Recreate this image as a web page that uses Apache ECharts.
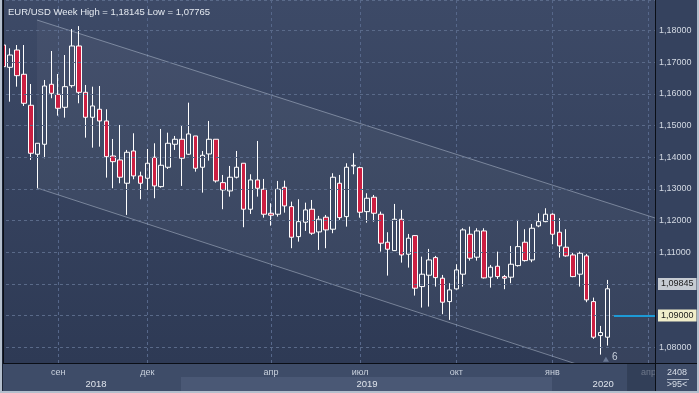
<!DOCTYPE html>
<html>
<head>
<meta charset="utf-8">
<script src="https://cdn.jsdelivr.net/npm/echarts@6/dist/echarts.min.js"></script>
<style>
html,body{margin:0;padding:0;background:#35425e;}
#chart{width:699px;height:393px;}
</style>
</head>
<body>
<div id="chart"></div>
<script>
// ---- data (weekly EUR/USD candles) ----
const weekIndex = Array.from({length: 89}, (_, i) => i);
const openV = [1.17548,1.16844,1.17390,1.16623,1.15644,1.14096,1.14412,1.16307,1.15991,1.15580,
1.16263,1.17517,1.16054,1.15265,1.15517,1.15148,1.14042,1.13916,1.13180,1.14200,
1.13411,1.13338,1.14001,1.13073,1.13685,1.14412,1.14570,1.14096,1.14674,1.13685,
1.14105,1.14570,1.13199,1.12937,1.13370,1.13812,1.12359,1.13284,1.12990,1.12232,
1.12201,1.13054,1.12441,1.11493,1.11948,1.12359,1.11642,1.12106,1.11727,1.13180,
1.12125,1.13726,1.13673,1.12283,1.12738,1.12201,1.11316,1.11051,1.12043,1.10937,
1.11525,1.09914,1.10274,1.10830,1.10179,1.09440,1.09841,1.10306,1.11569,1.10843,
1.11673,1.10211,1.10558,1.10230,1.10211,1.10577,1.11316,1.10757,1.11831,1.11967,
1.12201,1.11632,1.11158,1.10915,1.10306,1.10884,1.09440,1.08366,1.08316];
const closeV = [1.16863,1.17232,1.16579,1.15707,1.14128,1.14443,1.16253,1.16023,1.15549,1.16231,
1.17517,1.16054,1.15265,1.15622,1.15148,1.14020,1.13862,1.13370,1.14159,1.13411,
1.13180,1.13812,1.13095,1.13748,1.14443,1.14570,1.13970,1.14737,1.13654,1.14064,
1.14570,1.13253,1.12968,1.13370,1.13685,1.12359,1.13284,1.13022,1.12201,1.12169,
1.12990,1.12463,1.11474,1.11967,1.12337,1.11601,1.12043,1.11705,1.13370,1.12093,
1.13685,1.13748,1.12264,1.12706,1.12232,1.11285,1.11095,1.12043,1.10915,1.11443,
1.09863,1.10306,1.10757,1.10198,1.09421,1.09810,1.10441,1.11705,1.10811,1.11673,
1.10189,1.10527,1.10230,1.10179,1.10621,1.11177,1.10735,1.11758,1.11967,1.12201,
1.11569,1.11199,1.10884,1.10230,1.10969,1.09494,1.08316,1.08461,1.09845];
const lowV = [1.16822,1.15757,1.16231,1.15622,1.13916,1.13022,1.13970,1.15865,1.15315,1.15252,
1.16200,1.15707,1.14620,1.14304,1.14336,1.13357,1.13022,1.13180,1.12179,1.13306,
1.12675,1.12968,1.12706,1.13041,1.13632,1.14232,1.13095,1.14074,1.13546,1.12883,
1.13894,1.13199,1.12359,1.12757,1.13332,1.11790,1.12210,1.12757,1.12093,1.11841,
1.12125,1.12251,1.11127,1.11335,1.11673,1.11547,1.11073,1.11127,1.11601,1.12021,
1.11809,1.13464,1.12093,1.11935,1.11967,1.11019,1.10261,1.11040,1.10672,1.10514,
1.09630,1.09251,1.09282,1.09914,1.09042,1.08862,1.09820,1.09914,1.10735,1.10735,
1.10170,1.09882,1.10157,1.09832,1.10021,1.10546,1.10704,1.10685,1.11790,1.11948,
1.11253,1.10830,1.10860,1.10211,1.09914,1.09421,1.08262,1.07765,1.08050];
const highV = [1.17580,1.17444,1.17548,1.17548,1.16316,1.14450,1.16443,1.17359,1.16632,1.17232,
1.18054,1.18145,1.16285,1.16231,1.16253,1.15517,1.14579,1.15021,1.14232,1.14759,
1.13546,1.14263,1.14443,1.14895,1.14778,1.14674,1.14990,1.15726,1.14674,1.14200,
1.15148,1.14570,1.13442,1.13726,1.14200,1.13812,1.13464,1.14516,1.13316,1.12548,
1.13253,1.13262,1.12599,1.12675,1.12567,1.12652,1.12147,1.12178,1.13496,1.13442,
1.13812,1.14128,1.13705,1.12864,1.12810,1.12283,1.11632,1.12526,1.12337,1.11578,
1.11540,1.10861,1.11105,1.10884,1.10283,1.10021,1.10621,1.11758,1.11809,1.11758,
1.11758,1.10599,1.11019,1.10283,1.11199,1.12021,1.11727,1.11894,1.12232,1.12390,
1.12232,1.12074,1.11727,1.10988,1.11019,1.10947,1.09567,1.08672,1.10125];

// month tick labels (positioned on the week index scale)
const monthTickIdx = [8, 21, 39, 52, 66, 80, 94];
const monthTickLabels = ['сен', 'дек', 'апр', 'июл', 'окт', 'янв', 'апр'];
const yearTickIdx = [13.5, 53, 87.4];
const yearTickLabels = ['2018', '2019', '2020'];

// trend channel (week index, price)
const channelUpper = [[4.91, 1.18338], [94.95, 1.12083]];
const channelLower = [[4.91, 1.13031], [94.95, 1.06657]];

const lastPrice = 1.09845;
const linePrice = 1.09000;
const weekHigh = 1.18145, weekLow = 1.07765;

// ---- chart ----
const fmt = v => v.toFixed(5).replace('.', ',');
const X_MIN = -0.4808, X_MAX = 94.95;
const FONT = 'Liberation Sans';

const candleData = weekIndex.map(i => [i, openV[i], closeV[i], lowV[i], highV[i]]);

const chart = echarts.init(document.getElementById('chart'), null, {renderer: 'canvas'});
chart.setOption({
  animation: false,
  backgroundColor: '#35425e',
  textStyle: {fontFamily: FONT},
  title: {
    text: 'EUR/USD Week High = ' + fmt(weekHigh) + ' Low = ' + fmt(weekLow),
    left: 3, top: 2,
    textStyle: {color: '#e4e9f0', fontSize: 9.5, fontWeight: 'normal', fontFamily: FONT}
  },
  grid: {
    left: 0, right: 44, top: 0, bottom: 30,
    show: true, borderWidth: 0,
    backgroundColor: new echarts.graphic.LinearGradient(0, 0, 0, 1, [
      {offset: 0, color: '#3d4a67'}, {offset: 1, color: '#2e3a55'}
    ])
  },
  xAxis: [{
    type: 'value', min: X_MIN, max: X_MAX, z: 5,
    splitLine: {show: false}, axisTick: {show: false},
    axisLine: {show: true, lineStyle: {color: '#0a0e16', width: 1}},
    axisLabel: {
      customValues: monthTickIdx,
      formatter: v => monthTickLabels[monthTickIdx.indexOf(v)] || '',
      color: '#c9d1dd', fontSize: 9, margin: 5, fontFamily: FONT
    }
  }, {
    type: 'value', min: X_MIN, max: X_MAX, position: 'bottom', offset: 14, z: 5,
    splitLine: {show: false}, axisTick: {show: false}, axisLine: {show: false},
    axisLabel: {
      customValues: yearTickIdx,
      formatter: v => yearTickLabels[yearTickIdx.indexOf(v)] || '',
      color: '#dfe4ec', fontSize: 9.5, margin: 2, fontFamily: FONT
    }
  }],
  yAxis: {
    type: 'value', position: 'right', min: 1.075, max: 1.1897, splitNumber: 11, z: 5,
    axisLine: {show: true, lineStyle: {color: '#0a0e16'}},
    axisTick: {show: false},
    splitLine: {show: true, lineStyle: {color: '#5a6a89', type: [3, 3], width: 1}},
    axisLabel: {
      formatter: fmt, color: '#d3d9e3', fontSize: 9, margin: 4, fontFamily: FONT,
      showMinLabel: false, showMaxLabel: false
    }
  },
  graphic: [
    {type: 'rect', z: 1, shape: {x: 0, y: 364, width: 699, height: 29}, style: {fill: '#3e4c68'}},
    {type: 'rect', z: 1, shape: {x: 181, y: 377, width: 371, height: 14}, style: {fill: '#4a5875'}},
    {type: 'rect', z: 20, shape: {x: 627, y: 364, width: 28, height: 27}, style: {fill: 'rgba(44,55,79,0.6)'}},
    {type: 'line', z: 20, shape: {x1: 627.5, y1: 364, x2: 627.5, y2: 391}, style: {stroke: '#334058', lineWidth: 1}},
    {type: 'line', z: 20, shape: {x1: 0, y1: 363.5, x2: 699, y2: 363.5}, style: {stroke: '#0a0e16', lineWidth: 1}},
    {type: 'line', z: 20, shape: {x1: 655.5, y1: 0, x2: 655.5, y2: 393}, style: {stroke: '#0a0e16', lineWidth: 1}},
    {type: 'line', z: 20, shape: {x1: 2.5, y1: 0, x2: 2.5, y2: 391}, style: {stroke: '#1a2233', lineWidth: 1}},
    {type: 'text', z: 20, x: 677, y: 373, style: {text: '2408', fill: '#d8dee8', font: '9px "Liberation Sans"', align: 'center', verticalAlign: 'middle'}},
    {type: 'line', z: 20, shape: {x1: 667, y1: 379.5, x2: 689, y2: 379.5}, style: {stroke: '#aab4c4', lineWidth: 1}},
    {type: 'text', z: 20, x: 677, y: 385, style: {text: '>95<', fill: '#d8dee8', font: '9px "Liberation Sans"', align: 'center', verticalAlign: 'middle'}},
    {type: 'rect', z: 30, shape: {x: 0, y: 0, width: 2, height: 393}, style: {fill: '#b4bfcd'}},
    {type: 'rect', z: 30, shape: {x: 697, y: 0, width: 2, height: 393}, style: {fill: '#b4bfcd'}},
    {type: 'rect', z: 30, shape: {x: 0, y: 391, width: 699, height: 2}, style: {fill: '#b4bfcd'}}
  ],
  series: [
    {
      type: 'custom', xAxisIndex: 0, clip: true, silent: true, z: 1,
      data: [[channelUpper[0][0], channelUpper[0][1]]],
      renderItem: (params, api) => {
        const pts = [channelUpper[0], channelUpper[1], channelLower[1], channelLower[0]].map(p => api.coord(p));
        return {type: 'polygon', shape: {points: pts}, style: {fill: 'rgba(255,255,255,0.045)'}};
      }
    },
    {
      type: 'line', data: channelUpper, symbol: 'none', silent: true, z: 2,
      lineStyle: {color: 'rgba(200,210,226,0.45)', width: 1}
    },
    {
      type: 'line', data: channelLower, symbol: 'none', silent: true, z: 2, clip: true,
      lineStyle: {color: 'rgba(200,210,226,0.45)', width: 1}
    },
    {
      type: 'candlestick', data: candleData, encode: {x: 0, y: [1, 2, 3, 4]},
      barWidth: 5, z: 3,
      itemStyle: {color: 'rgba(0,0,0,0)', borderColor: '#ffffff', color0: '#cc1f42', borderColor0: '#ffffff', borderWidth: 1},
      markLine: {
        symbol: ['none', 'none'], silent: true, z: 1,
        label: {show: false},
        lineStyle: {color: '#56678a', type: [3, 3], width: 1},
        data: monthTickIdx.map(i => ({xAxis: i}))
      }
    },
    {
      type: 'line', data: [[88, lastPrice]], symbol: 'none', silent: true, z: 10, clip: false,
      lineStyle: {width: 0},
      markLine: {
        symbol: ['none', 'none'], silent: true, z: 12,
        data: [
          [{coord: [88.97, linePrice], lineStyle: {color: '#1d9ad6', width: 2, type: 'solid'},
            label: {show: true, position: 'end', formatter: fmt(linePrice), backgroundColor: '#f1eecb',
              color: '#1a1a1a', fontSize: 9, padding: [2, 3, 1, 3], distance: 3, fontFamily: FONT}},
           {coord: [X_MAX, linePrice]}],
          {yAxis: lastPrice, lineStyle: {color: 'rgba(0,0,0,0)', width: 1, type: 'solid'},
           label: {show: true, position: 'end', formatter: fmt(lastPrice), backgroundColor: '#c6cbd2',
             color: '#1a1a1a', fontSize: 9, padding: [2, 3, 1, 3], distance: 3, fontFamily: FONT}}
        ]
      },
      markPoint: {
        silent: true, z: 12,
        data: [
          {coord: [87.8, 1.0762], symbol: 'triangle', symbolSize: [6, 5], itemStyle: {color: '#6a7894'}, label: {show: false}},
          {coord: [89.1, 1.0769], symbol: 'rect', symbolSize: 1, itemStyle: {color: 'rgba(0,0,0,0)'},
           label: {show: true, position: 'inside', formatter: '6', color: '#c9d1dc', fontSize: 10, fontFamily: FONT}}
        ]
      }
    }
  ]
});
</script>
</body>
</html>
